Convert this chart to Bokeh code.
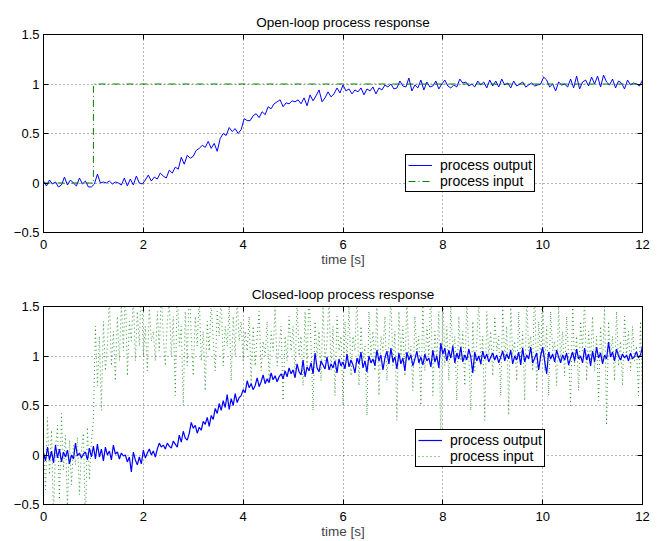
import numpy as np
from bokeh.plotting import figure
from bokeh.layouts import column
from bokeh.models import (LinearAxis, Legend, LegendItem, FixedTicker, Range1d)
from bokeh.embed import file_html
from bokeh.resources import INLINE

# ---------------- data ----------------
titles = ["Open-loop process response", "Closed-loop process response"]
x_label = "time [s]"
x_ticks = [0, 2, 4, 6, 8, 10, 12]
y_ticks = [-0.5, 0, 0.5, 1, 1.5]
y_tick_labels = {-0.5: "\u22120.5", 0: "0", 0.5: "0.5", 1: "1", 1.5: "1.5"}
legend_labels = ["process output", "process input"]

# open-loop output (sampled every 0.06 s from 0 to 12 s)
open_output = [
    0.02, -0.03, 0.03, -0.01, 0.01, -0.04, -0.02, 0.06, -0.02, 0.03, 0.00, -0.03, 0.05, -0.01, 0.02, -0.04, -0.04,
    -0.01, 0.09, 0.00, 0.01, 0.00, 0.02, -0.01, 0.01, 0.00, -0.02, 0.05, -0.03, 0.04, -0.02, 0.07, 0.00, -0.01,
    0.03, 0.08, 0.02, 0.06, 0.04, 0.10, 0.07, 0.05, 0.13, 0.10, 0.16, 0.14, 0.26, 0.19, 0.28, 0.25, 0.27,
    0.33, 0.35, 0.38, 0.36, 0.42, 0.35, 0.40, 0.32, 0.45, 0.50, 0.48, 0.56, 0.52, 0.55, 0.50, 0.54, 0.65,
    0.63, 0.63, 0.68, 0.70, 0.66, 0.72, 0.69, 0.77, 0.75, 0.80, 0.82, 0.84, 0.77, 0.81, 0.80, 0.83,
    0.82, 0.84, 0.80, 0.86, 0.78, 0.89, 0.83, 0.88, 0.94, 0.82, 0.86, 0.92, 0.87, 0.90, 0.96, 0.91, 0.99,
    0.93, 0.95, 0.90, 0.94, 0.92, 0.96, 0.89, 0.95, 0.93, 0.97, 0.90, 0.96, 0.94, 0.99, 0.97, 1.00, 0.95,
    0.96, 1.03, 0.98, 0.97, 1.06, 0.93, 0.99, 0.96, 1.04, 0.94, 1.02, 0.97, 0.98, 1.03, 0.95, 1.00,
    1.04, 0.98, 0.96, 0.99, 0.97, 1.05, 1.01, 1.02, 0.98, 1.00, 0.97, 1.03, 0.99, 1.02, 0.96, 1.04, 0.98,
    1.03, 0.97, 1.05, 0.99, 1.01, 0.96, 1.03, 0.98, 1.00, 1.02, 0.97, 0.99, 1.01, 0.98, 0.99, 1.00, 1.07,
    1.04, 0.97, 1.00, 0.93, 1.02, 0.99, 1.00, 0.97, 1.05, 0.96, 1.08, 0.95, 1.02, 1.04, 0.98, 1.07,
    1.00, 1.08, 0.97, 1.09, 1.02, 0.99, 1.05, 0.96, 1.03, 1.01, 0.95, 1.04, 0.99, 1.01, 1.00, 0.98, 1.04,
]
# open-loop input: step at t = 1 s
open_input_t = [0, 1, 1, 12]
open_input = [0, 0, 1, 1]

# closed-loop output (sampled every 0.04 s from 0 to 12 s)
closed_output = [
    0.02, -0.06, 0.08, -0.05, 0.04, -0.08, 0.10, -0.03, 0.06, -0.07, 0.03, -0.02, 0.05, -0.09, 0.00, -0.04, 0.12, -0.01, 0.02, -0.03, 0.01, 0.03, -0.05, 0.07, -0.02,
    0.09, -0.04, 0.11, -0.02, 0.06, -0.06, 0.08, 0.00, 0.04, -0.05, 0.10, 0.01, 0.03, -0.04, 0.02, -0.01, 0.00, -0.07, -0.02, -0.17, 0.03, -0.05, -0.10, -0.02, -0.09,
    0.05, -0.03, 0.02, 0.06, 0.00, 0.04, -0.02, 0.06, 0.12, 0.08, 0.10, 0.06, 0.12, 0.09, 0.07, 0.14, 0.11, 0.08, 0.20, 0.13, 0.24, 0.17, 0.15, 0.22, 0.33,
    0.27, 0.30, 0.22, 0.28, 0.25, 0.34, 0.31, 0.38, 0.29, 0.40, 0.36, 0.47, 0.42, 0.52, 0.45, 0.55, 0.48, 0.61, 0.46, 0.57, 0.50, 0.62, 0.53, 0.58, 0.60,
    0.66, 0.63, 0.75, 0.68, 0.72, 0.66, 0.70, 0.78, 0.69, 0.74, 0.81, 0.72, 0.77, 0.73, 0.83, 0.76, 0.80, 0.74, 0.79, 0.82, 0.77, 0.85, 0.79, 0.88, 0.82,
    0.86, 0.78, 0.92, 0.84, 0.81, 0.96, 0.79, 0.89, 0.85, 0.93, 0.82, 1.03, 0.88, 0.84, 0.95, 0.91, 0.87, 0.99, 0.86, 0.92, 0.88, 0.95, 0.83, 0.97, 0.90,
    0.94, 0.87, 1.02, 0.89, 0.96, 0.91, 0.83, 0.98, 0.92, 1.04, 0.88, 0.95, 0.84, 1.00, 0.93, 0.97, 0.90, 1.06, 0.95, 1.01, 0.86, 0.98, 1.05, 0.92, 1.08,
    0.94, 0.99, 0.87, 1.03, 0.92, 0.98, 0.85, 1.04, 0.96, 1.01, 0.90, 0.97, 1.05, 0.93, 0.99, 0.91, 1.02, 0.95, 0.98, 0.89, 1.06, 0.94, 1.00, 0.88, 1.13,
    1.02, 1.08, 0.95, 1.06, 0.98, 1.10, 0.93, 1.03, 0.97, 1.09, 0.94, 1.01, 0.96, 1.07, 0.99, 0.83, 1.04, 0.95, 1.00, 0.92, 1.05, 0.97, 1.02, 0.94, 0.99,
    1.03, 0.96, 1.01, 0.93, 0.99, 1.05, 0.95, 1.02, 0.97, 1.06, 0.92, 1.00, 0.96, 1.04, 0.91, 1.08, 0.94, 1.01, 0.97, 1.09, 0.93, 0.98, 1.03, 0.86, 1.00,
    1.09, 0.95, 0.82, 1.04, 0.97, 1.02, 0.94, 1.06, 0.99, 0.93, 1.01, 0.96, 1.03, 0.91, 0.98, 1.04, 0.95, 1.07, 0.97, 1.00, 0.93, 1.08, 0.96, 1.02, 0.90,
    1.05, 0.94, 1.09, 0.98, 1.03, 0.92, 1.01, 0.97, 1.14, 0.99, 1.04, 0.95, 1.07, 1.00, 0.96, 1.02, 0.98, 1.01, 0.95, 1.03, 0.97, 1.00, 1.04, 0.98, 1.01,
    1.10,
]

# closed-loop input (controller output, sampled every 0.04 s)
closed_input = [
    0.10, -0.35, 0.38, -0.20, 0.25, -0.62, 0.05, 0.30, -0.45, 0.42, -0.15, 0.20, -0.55, 0.15, -0.30, 0.10, -0.10, 0.18, -0.40, 0.05, 0.22, -0.70, 0.28, -0.25, 0.15,
    0.35, 1.30, 0.70, 1.20, 0.45, 1.35, 0.85, 1.10, 1.60, 0.90, 1.25, 0.75, 1.40, 0.95, 1.55, 1.05, 1.70, 0.80, 1.35, 1.15, 1.62, 0.95, 1.45, 1.10, 1.80,
    1.00, 1.30, 0.85, 1.50, 1.15, 1.25, 0.95, 1.45, 1.05, 1.65, 1.20, 0.90, 1.35, 1.55, 1.00, 1.40, 0.60, 1.70, 1.10, 1.30, 0.50, 1.45, 0.90, 1.75, 1.20,
    0.80, 1.40, 1.10, 1.60, 0.95, 1.25, 0.65, 1.35, 1.05, 1.55, 1.15, 0.85, 1.45, 1.20, 1.65, 0.90, 1.30, 1.10, 1.50, 0.75, 1.40, 1.00, 1.60, 1.15, 1.35,
    0.95, 1.25, 1.05, 1.40, 0.70, 1.30, 0.90, 1.20, 1.45, 0.85, 1.15, 1.00, 1.35, 0.75, 1.25, 1.05, 1.50, 0.90, 1.10, 1.30, 0.55, 1.20, 0.95, 1.40, 1.05,
    1.30, 0.80, 1.55, 1.00, 1.20, 0.70, 1.45, 0.90, 1.65, 1.10, 0.45, 1.35, 1.00, 1.25, 0.75, 1.50, 0.95, 1.15, 1.60, 0.85, 1.30, 0.60, 1.40, 1.05, 1.20,
    0.50, 1.35, 0.95, 1.50, 0.80, 1.20, 1.05, 1.65, 0.70, 1.30, 0.95, 1.10, 0.40, 1.45, 1.00, 1.25, 0.85, 1.55, 0.60, 1.20, 1.05, 1.40, 0.75, 1.15, 1.60,
    0.90, 1.25, 0.35, 1.45, 1.00, 1.30, 0.80, 1.60, 0.95, 1.10, 0.65, 1.40, 1.05, 1.20, 0.50, 1.55, 0.85, 1.30, 1.00, 1.70, 0.60, 1.25, 0.95, 1.45, 0.10,
    1.65, 0.90, 1.30, 0.75, 1.50, 1.05, 1.20, 0.55, 1.40, 0.95, 1.25, 0.70, 1.60, 1.00, 0.45, 1.35, 0.85, 1.15, 1.55, 0.90, 1.20, 0.35, 1.45, 1.00, 1.25,
    0.80, 1.40, 1.05, 1.20, 0.60, 1.50, 0.95, 1.30, 0.40, 1.55, 1.00, 1.15, 0.75, 1.45, 0.90, 1.25, 0.55, 1.60, 1.05, 1.20, 0.85, 1.75, 0.65, 1.35, 0.95,
    1.70, 0.85, 1.30, 0.60, 1.45, 1.05, 1.15, 0.70, 1.50, 0.95, 1.25, 0.80, 1.40, 1.00, 0.50, 1.55, 0.90, 1.20, 0.65, 1.35, 1.05, 1.60, 0.75, 1.25, 0.95,
    1.40, 0.85, 1.20, 0.55, 1.30, 0.95, 1.50, 0.30, 1.35, 1.00, 1.20, 0.75, 1.45, 0.90, 1.15, 0.70, 1.40, 1.00, 1.25, 0.85, 1.30, 0.95, 1.10, 0.60, 1.35,
    0.55,
]

t_open = np.linspace(0, 12, len(open_output))
t_closed = np.linspace(0, 12, len(closed_output))

FONT = "Liberation Sans"
BLUE = "#0000ff"
GREEN = "#008000"


def make_fig(title, height, top, bottom):
    p = figure(width=658, height=height, output_backend="svg", toolbar_location=None,
               x_range=Range1d(0, 12), y_range=Range1d(-0.5, 1.5),
               min_border_left=43, min_border_right=16, min_border_top=top,
               min_border_bottom=bottom)
    p.title.text = title
    p.title.align = "center"
    p.title.text_font = FONT
    p.title.text_font_size = "13.5px"
    p.title.text_font_style = "normal"
    p.title.text_color = "black"
    p.title.standoff = 9
    p.outline_line_color = "black"
    p.outline_line_alpha = 1
    p.outline_line_width = 1
    p.background_fill_color = "white"
    p.border_fill_color = "white"

    for ax, ticks in ((p.xaxis[0], x_ticks), (p.yaxis[0], y_ticks)):
        ax.ticker = FixedTicker(ticks=ticks)
        ax.major_tick_in = 5
        ax.major_tick_out = 0
        ax.minor_tick_line_color = None
        ax.axis_line_color = "black"
        ax.major_tick_line_color = "black"
        ax.major_label_text_font = FONT
        ax.major_label_text_font_size = "13px"
        ax.major_label_text_color = "black"
    p.xaxis.major_label_standoff = 7
    p.yaxis.major_label_standoff = 4
    p.yaxis.major_label_overrides = y_tick_labels
    p.xaxis.axis_label = x_label
    p.xaxis.axis_label_text_font = FONT
    p.xaxis.axis_label_text_font_size = "13.5px"
    p.xaxis.axis_label_text_font_style = "normal"
    p.xaxis.axis_label_standoff = 0

    for loc, ticks in (("right", y_ticks), ("above", x_ticks)):
        ax = LinearAxis(ticker=FixedTicker(ticks=ticks), major_tick_in=5, major_tick_out=0,
                        minor_tick_line_color=None, major_label_text_font_size="1px",
                        major_label_text_color=None, major_label_standoff=0,
                        axis_line_color="black")
        p.add_layout(ax, loc)

    for g, ticks in ((p.xgrid[0], x_ticks), (p.ygrid[0], y_ticks)):
        g.ticker = FixedTicker(ticks=ticks)
        g.grid_line_color = "black"
        g.grid_line_alpha = 0.6
        g.grid_line_dash = "1 3"
        g.grid_line_width = 1
    return p


def style_legend(p, items, loc):
    leg = Legend(items=items, location=loc, border_line_color="black", border_line_width=1,
                 border_line_alpha=1, background_fill_color="white", background_fill_alpha=1,
                 label_text_font=FONT, label_text_font_size="14px", label_text_color="black",
                 glyph_width=24, glyph_height=14, label_height=14, label_standoff=8,
                 padding=2, spacing=0, margin=0)
    p.add_layout(leg, "center")


# ---- top: open loop ----
p1 = make_fig(titles[0], 270, 34, 38)
r_out = p1.line(t_open, open_output, line_color=BLUE, line_width=1)
r_in = p1.line(open_input_t, open_input, line_color=GREEN, line_width=1, line_dash="7 3 1 3")
style_legend(p1, [LegendItem(label=legend_labels[0], renderers=[r_out]),
                  LegendItem(label=legend_labels[1], renderers=[r_in])], (362, 40))

# ---- bottom: closed loop ----
p2 = make_fig(titles[1], 271, 36, 37)
r_in2 = p2.line(t_closed, closed_input, line_color=GREEN, line_width=1, line_dash="1 3", line_alpha=0.8)
r_out2 = p2.line(t_closed, closed_output, line_color=BLUE, line_width=1.2)
style_legend(p2, [LegendItem(label=legend_labels[0], renderers=[r_out2]),
                  LegendItem(label=legend_labels[1], renderers=[r_in2])], (372, 37))

layout = column(p1, p2, spacing=0)
open("out.html", "w").write(file_html(layout, INLINE))
